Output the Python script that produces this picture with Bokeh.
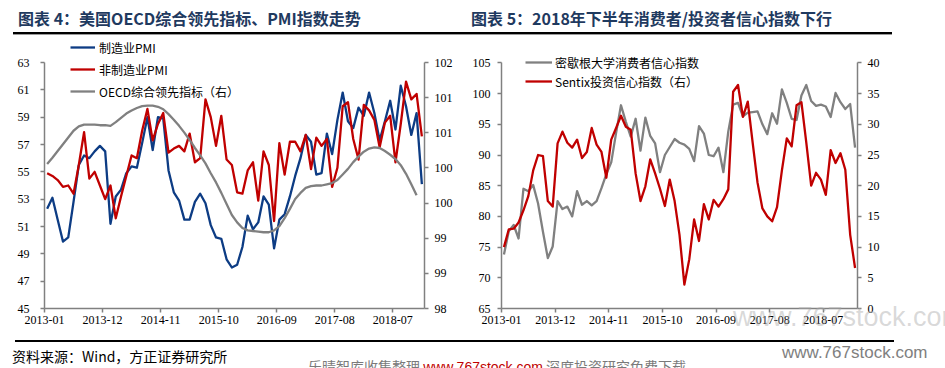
from bokeh.plotting import figure
from bokeh.models import (Range1d, LinearAxis, FixedTicker, Legend, LegendItem,
                          CustomJSTickFormatter, Div)
from bokeh.layouts import row, column
from bokeh.embed import file_html
from bokeh.resources import INLINE

# ---------------- data ----------------
x_tick_months = [0, 11, 22, 33, 44, 55, 66]
x_tick_labels = ["2013-01", "2013-12", "2014-11", "2015-10", "2016-09", "2017-08", "2018-07"]

# Chart 4 (monthly from 2013-01)
mfg_pmi = [52.3, 53.1, 51.5, 49.9, 50.2, 52.8, 55.5, 56.2, 56.0, 56.5, 56.9, 56.5,
           51.2, 53.2, 53.7, 54.9, 55.4, 55.3, 57.1, 59.0, 56.6, 59.0, 58.9, 55.1,
           53.5, 52.9, 51.5, 51.5, 52.8, 53.4, 52.7, 51.1, 50.2, 50.1, 48.6, 48.0,
           48.2, 49.5, 51.8, 50.8, 51.3, 53.2, 52.6, 49.4, 51.5, 51.9, 53.2, 54.7,
           56.0, 57.7, 57.2, 54.8, 54.9, 57.8, 56.3, 58.8, 60.8, 58.7, 58.2, 59.7,
           59.1, 60.8, 59.3, 57.3, 58.7, 60.2, 58.1, 61.3, 59.8, 57.7, 59.3, 54.1]
nonmfg_pmi = [54.9, 54.7, 54.4, 53.9, 54.0, 53.4, 55.5, 57.9, 54.5, 55.0, 54.0, 53.0,
              54.0, 51.6, 53.2, 54.7, 56.2, 56.0, 58.0, 59.6, 57.3, 58.5, 59.3, 56.4,
              56.7, 56.9, 56.5, 57.8, 55.7, 56.0, 60.3, 59.0, 56.9, 59.1, 55.9, 55.5,
              53.5, 53.4, 55.1, 55.7, 52.9, 56.5, 55.5, 51.4, 57.1, 54.8, 57.2, 57.2,
              56.5, 57.7, 55.2, 57.5, 56.9, 57.4, 53.9, 55.3, 59.8, 60.1, 57.4, 55.9,
              59.9, 59.5, 58.8, 56.8, 58.6, 59.1, 55.7, 58.5, 61.6, 60.3, 60.7, 57.6]
oecd_cli = [100.35, 100.45, 100.56, 100.67, 100.78, 100.89, 100.96, 100.99, 100.99, 100.99, 100.98, 100.98,
            100.97, 101.03, 101.10, 101.17, 101.22, 101.26, 101.29, 101.30, 101.30, 101.28, 101.24, 101.16,
            101.07, 100.97, 100.86, 100.74, 100.61, 100.49, 100.36, 100.20, 100.05, 99.88, 99.70, 99.52,
            99.40, 99.31, 99.27, 99.26, 99.25, 99.24, 99.24, 99.27, 99.34, 99.47, 99.62, 99.78,
            99.88, 99.96, 99.99, 100.00, 100.00, 100.02, 100.04, 100.09, 100.18, 100.27, 100.38, 100.47,
            100.55, 100.60, 100.62, 100.61, 100.56, 100.50, 100.43, 100.33, 100.19, 100.02, 99.84]

# Chart 5 (monthly from 2013-01 to 2019-01)
michigan = [73.8, 77.6, 78.6, 76.4, 84.5, 84.1, 85.1, 82.1, 77.5, 73.2, 75.1, 82.5,
            81.2, 81.6, 80.0, 84.1, 81.9, 82.5, 81.8, 82.5, 84.6, 86.9, 88.8, 93.6,
            98.1, 95.4, 93.0, 95.9, 90.7, 96.1, 93.1, 91.9, 87.2, 90.0, 91.3, 92.6,
            92.0, 91.7, 91.0, 89.0, 94.7, 93.5, 90.0, 89.8, 91.2, 87.2, 93.8, 98.2,
            98.5, 96.3, 96.9, 97.0, 97.1, 95.0, 93.4, 96.8, 95.1, 100.7, 98.5, 95.9,
            95.7, 99.7, 101.4, 98.8, 98.0, 98.2, 97.9, 96.2, 100.1, 98.6, 97.5, 98.3, 91.2]
sentix = [10.0, 12.9, 13.0, 14.0, 16.0, 18.3, 22.5, 25.0, 24.8, 17.5, 16.6, 26.9,
          28.8, 27.0, 26.2, 27.5, 24.5, 25.5, 29.4, 26.7, 25.5, 21.3, 27.5, 29.4,
          31.4, 29.6, 29.1, 22.0, 17.5, 19.9, 24.3, 22.0, 19.5, 16.7, 21.0, 17.5,
          12.0, 3.9, 8.0, 14.5, 11.0, 17.0, 14.5, 17.7, 16.6, 17.8, 19.4, 35.3,
          36.4, 31.2, 33.7, 27.0, 20.5, 16.3, 15.0, 14.2, 16.5, 22.5, 27.7, 26.4,
          33.1, 33.6, 27.0, 20.0, 22.1, 21.0, 18.5, 25.8, 23.7, 25.3, 22.6, 12.0, 6.6]

left_ticks_4 = [45, 47, 49, 51, 53, 55, 57, 59, 61, 63]
right_ticks_4 = [98 + 4 * k / 7 for k in range(8)]
left_ticks_5 = [65, 70, 75, 80, 85, 90, 95, 100, 105]
right_ticks_5 = [0, 5, 10, 15, 20, 25, 30, 35, 40]

title4 = "图表 4：美国OECD综合领先指标、PMI指数走势"
title5 = "图表 5：2018年下半年消费者/投资者信心指数下行"
source_text = "资料来源：Wind，方正证券研究所"
wm_url = "www.767stock.com"
wm_left = "乐晴智库收集整理"
wm_right = "深度投资研究免费下载"

BLUE = "#0D3C84"
RED = "#C00000"
GRAY = "#808080"
TITLE_C = "#1F3A5F"
CJK = "Noto Sans CJK SC"
SERIF = "Liberation Serif"

# ---------------- layout constants (pixels) ----------------
TOP_H = 36          # title strip
FIG_H = 294         # chart strip (page y 36..330)
BOT_H = 38          # source strip (page y 330..368)
PAGE_W = 943
L_AX_TOP, L_AX_BOT = 62 - TOP_H, 308 - TOP_H     # in-figure y of top/bottom tick (chart 4)
R_AX_TOP, R_AX_BOT = 62.5 - TOP_H, 309 - TOP_H   # chart 5


def extended(lo, hi, ax_top, ax_bot):
    """Range whose lo..hi spans ax_bot..ax_top while the frame reaches the figure top."""
    return Range1d(lo, lo + (hi - lo) * ax_bot / (ax_bot - ax_top))


def style_axis(ax, standoff):
    ax.axis_line_color = "#808080"
    ax.axis_line_width = 1.5
    ax.major_tick_line_color = "#808080"
    ax.major_tick_line_width = 1.5
    ax.major_tick_in = 0
    ax.major_tick_out = 4
    ax.minor_tick_line_color = None
    ax.major_label_text_font = SERIF
    ax.major_label_text_font_size = "12px"
    ax.major_label_text_color = "#000000"
    ax.major_label_standoff = standoff


def base_fig(width, xmax, yr, bl, br, bb):
    p = figure(width=width, height=FIG_H, x_range=Range1d(0, xmax), y_range=yr,
               output_backend="svg", toolbar_location=None, tools="",
               min_border_left=bl, min_border_right=br, min_border_top=0, min_border_bottom=bb)
    p.outline_line_color = None
    p.xgrid.visible = False
    p.ygrid.visible = False
    p.background_fill_color = "white"
    p.border_fill_color = "white"
    p.xaxis.ticker = FixedTicker(ticks=x_tick_months)
    p.xaxis.major_label_overrides = {m: l for m, l in zip(x_tick_months, x_tick_labels)}
    style_axis(p.xaxis[0], 3)
    return p


# ---------------- Chart 4 ----------------
p1 = base_fig(468, 72, extended(45, 63, L_AX_TOP, L_AX_BOT), 44, 44, FIG_H - L_AX_BOT)
p1.yaxis.ticker = FixedTicker(ticks=left_ticks_4)
p1.yaxis.bounds = (45, 63)
style_axis(p1.yaxis[0], 11)
p1.extra_y_ranges = {"r": extended(98, 102, L_AX_TOP, L_AX_BOT)}
ax_r1 = LinearAxis(y_range_name="r", ticker=FixedTicker(ticks=right_ticks_4), bounds=(98, 102),
                   formatter=CustomJSTickFormatter(code="return Math.round(tick).toFixed(0);"))
style_axis(ax_r1, 6)
p1.add_layout(ax_r1, "right")

x72 = [i + 0.5 for i in range(len(mfg_pmi))]
x71 = [i + 0.5 for i in range(len(oecd_cli))]
r_b = p1.line(x72, mfg_pmi, line_color=BLUE, line_width=2.3, line_join="round")
r_r = p1.line(x72, nonmfg_pmi, line_color=RED, line_width=2.3, line_join="round")
r_g = p1.line(x71, oecd_cli, y_range_name="r", line_color=GRAY, line_width=2.3, line_join="round")

leg1 = Legend(items=[LegendItem(label="制造业PMI", renderers=[r_b]),
                     LegendItem(label="非制造业PMI", renderers=[r_r]),
                     LegendItem(label="OECD综合领先指标（右）", renderers=[r_g])],
              location=(26, L_AX_BOT - 65), orientation="vertical", glyph_width=25, glyph_height=20,
              label_height=20, spacing=2, padding=0, margin=0, label_standoff=4,
              border_line_color=None, background_fill_alpha=0,
              label_text_font=CJK, label_text_font_size="12px", label_text_color="#000000")
p1.add_layout(leg1, "center")

# ---------------- Chart 5 ----------------
p2 = base_fig(PAGE_W - 468, 73, extended(65, 105, R_AX_TOP, R_AX_BOT), 33, 86, FIG_H - int(R_AX_BOT))
p2.yaxis.ticker = FixedTicker(ticks=left_ticks_5)
p2.yaxis.bounds = (65, 105)
style_axis(p2.yaxis[0], 7)
p2.extra_y_ranges = {"r": extended(0, 40, R_AX_TOP, R_AX_BOT)}
ax_r2 = LinearAxis(y_range_name="r", ticker=FixedTicker(ticks=right_ticks_5), bounds=(0, 40))
style_axis(ax_r2, 6)
p2.add_layout(ax_r2, "right")

x73 = [i + 0.5 for i in range(len(michigan))]
r_m = p2.line(x73, michigan, line_color=GRAY, line_width=2.3, line_join="round")
r_s = p2.line(x73, sentix, y_range_name="r", line_color=RED, line_width=2.3, line_join="round")

leg2 = Legend(items=[LegendItem(label="密歇根大学消费者信心指数", renderers=[r_m]),
                     LegendItem(label="Sentix投资信心指数（右）", renderers=[r_s])],
              location=(24, int(R_AX_BOT) - 55), orientation="vertical", glyph_width=27, glyph_height=18,
              label_height=18, spacing=1, padding=0, margin=0, label_standoff=3,
              border_line_color=None, background_fill_alpha=0,
              label_text_font=CJK, label_text_font_size="12px", label_text_color="#000000")
p2.add_layout(leg2, "center")

# ---------------- title strip and source strip ----------------
tstyle = ("position:absolute;top:8px;font-size:16px;line-height:20px;font-weight:bold;"
          f"color:{TITLE_C};white-space:nowrap;font-family:'{CJK}';")
top_html = (
    f'<div style="position:relative;width:{PAGE_W}px;height:{TOP_H}px;">'
    f'<div style="{tstyle}left:18px;">{title4}</div>'
    f'<div style="{tstyle}left:471px;">{title5}</div>'
    '<div style="position:absolute;left:13px;top:32px;width:879px;height:2px;background:#000;"></div>'
    '<div style="position:absolute;left:13px;top:34px;width:879px;height:1px;background:#9a9a9a;"></div>'
    '</div>')
top_div = Div(text=top_html, width=PAGE_W, height=TOP_H, margin=0)

# bottom strip starts at page y = TOP_H + FIG_H = 330
bot_html = (
    f'<div style="position:relative;width:{PAGE_W}px;height:{BOT_H}px;font-family:\'{CJK}\';">'
    f'<div style="position:absolute;left:15px;top:10px;width:879px;height:6px;border-top:2px solid #000000;'
    'font-size:1px;line-height:1px;">&nbsp;</div>'
    f'<div style="position:absolute;left:12px;top:16px;font-size:14px;line-height:20px;color:#000;white-space:nowrap;">{source_text}</div>'
    f'<div style="position:absolute;left:782px;top:12px;font-size:17px;line-height:22px;color:#808080;white-space:nowrap;font-family:\'Liberation Sans\';">{wm_url}</div>'
    f'<div style="position:absolute;left:0px;top:28px;width:{PAGE_W}px;height:10px;overflow:hidden;">'
    f'<div style="position:absolute;left:308px;top:-1px;font-size:14px;line-height:18px;color:#7a7a7a;white-space:nowrap;">'
    f'{wm_left} <span style="color:#c00000;font-family:\'Liberation Sans\';">{wm_url}</span> {wm_right}</div></div>'
    f'<div style="position:absolute;left:733px;top:-28px;font-size:27px;line-height:30px;color:rgba(170,170,170,0.45);white-space:nowrap;font-family:\'Liberation Sans\';pointer-events:none;">{wm_url}</div>'
    '</div>')
bot_div = Div(text=bot_html, width=PAGE_W, height=BOT_H, margin=0)

layout = column(top_div, row(p1, p2), bot_div)
open("out.html", "w").write(file_html(layout, INLINE))
